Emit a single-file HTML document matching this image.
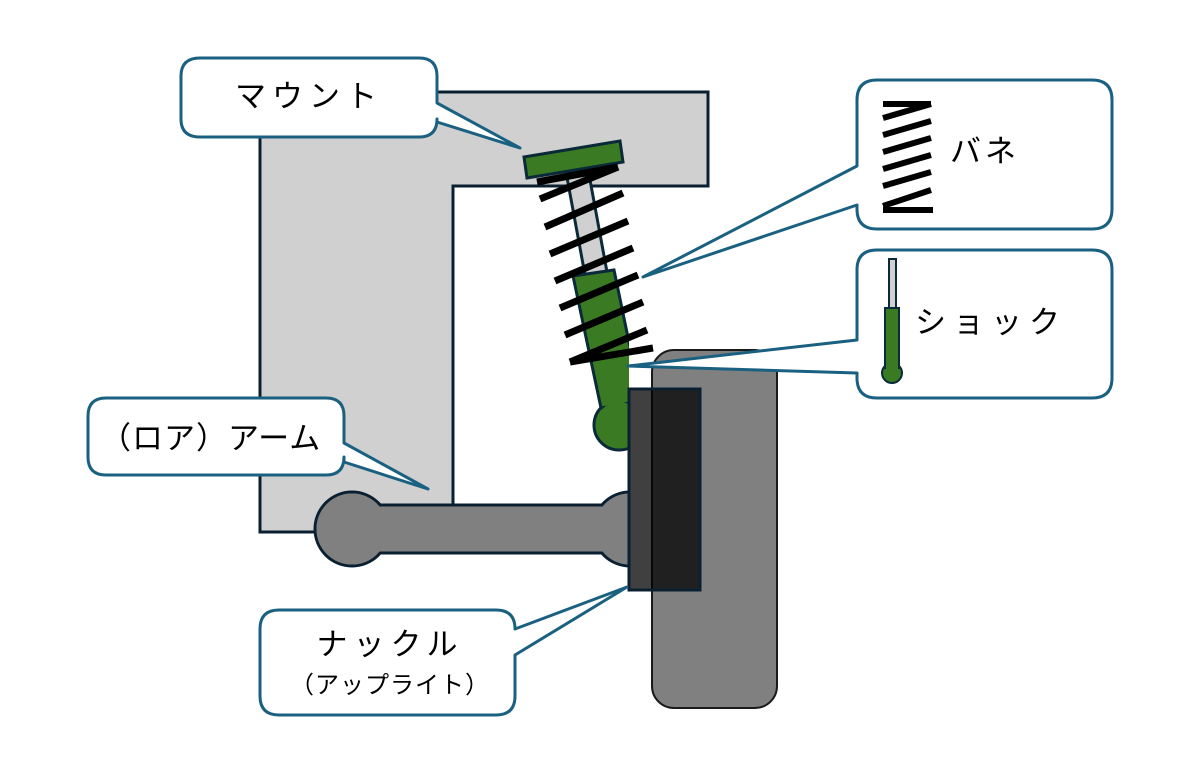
<!DOCTYPE html>
<html><head><meta charset="utf-8"><style>
html,body{margin:0;padding:0;background:#fff;}
svg{display:block;}
text{font-family:"Liberation Sans","Noto Sans CJK JP",sans-serif;fill:#000;}
</style></head><body>
<svg width="1190" height="760" viewBox="0 0 1190 760" xmlns="http://www.w3.org/2000/svg">
<defs><clipPath id="cl"><rect x="0" y="0" width="629" height="760"/></clipPath></defs>
<!-- frame -->
<polygon points="260,92 708,92 708,186 453,186 453,532 260,532" fill="#d0d0d0" stroke="#0a2030" stroke-width="3"/>
<!-- tire -->
<rect x="652" y="350" width="125" height="358" rx="22" fill="#808080" stroke="#1a1a1a" stroke-width="2"/>
<g clip-path="url(#cl)">
<!-- arm -->
<g fill="#808080" stroke="#0a2030" stroke-width="3">
<circle cx="352" cy="529" r="37"/>
<circle cx="630" cy="529" r="37"/>
<rect x="352" y="505" width="278" height="48"/>
</g>
<g fill="#808080">
<circle cx="352" cy="529" r="35.5"/>
<circle cx="630" cy="529" r="35.5"/>
<rect x="352" y="506.5" width="278" height="45"/>
</g>
<!-- shock rod -->
<polygon points="566,172 588,169 607,272 585,275" fill="#d0d0d0" stroke="#0a2a3a" stroke-width="3"/>
<!-- shock body -->
<g fill="#3a7a22" stroke="#0a2a3a" stroke-width="3">
<circle cx="619" cy="425" r="25"/>
<polygon points="573,276 614,270 641,400 601,408"/>
</g>
<polygon points="576,279 611,274 638,400 604,406" fill="#3a7a22"/>
<circle cx="619" cy="425" r="23" fill="#3a7a22"/>
</g>
<!-- mount -->
<polygon points="524,157 620,141 623,162 527,178" fill="#3a7a22" stroke="#0a2a3a" stroke-width="3"/>
<!-- spring -->
<g stroke="#000" stroke-width="7" fill="none">
<line x1="537" y1="182" x2="618" y2="167"/>
<line x1="540" y1="199" x2="618" y2="167"/>
<line x1="545" y1="227" x2="623" y2="193"/>
<line x1="550" y1="254" x2="628" y2="221"/>
<line x1="555" y1="281" x2="633" y2="248"/>
<line x1="560" y1="308" x2="638" y2="275"/>
<line x1="565" y1="335" x2="643" y2="302"/>
<line x1="570" y1="362" x2="647" y2="330"/>
<line x1="570" y1="362" x2="653" y2="348"/>
</g>
<!-- knuckle -->
<rect x="629" y="389" width="71" height="201" fill="#000" fill-opacity="0.75" stroke="#0a2030" stroke-width="3"/>
<!-- callouts -->
<g fill="#fff" stroke="#1a6080" stroke-width="3" stroke-linejoin="round">
<path d="M200,58 H419 Q437,58 437,76 V103 L520,148 L437,122 V119 Q437,137 419,137 H200 Q181,137 181,119 V76 Q181,58 200,58 Z"/>
<path d="M877,80 H1092 Q1112,80 1112,100 V209 Q1112,229 1092,229 H877 Q857,229 857,209 V205 L643,277 L857,166 V100 Q857,80 877,80 Z"/>
<path d="M877,250 H1092 Q1112,250 1112,270 V378 Q1112,398 1092,398 H877 Q857,398 857,378 V373 L628,366 L857,340 V270 Q857,250 877,250 Z"/>
<path d="M106,398 H326 Q344,398 344,416 V443 L428,489 L344,462 V457 Q344,475 326,475 H106 Q88,475 88,457 V416 Q88,398 106,398 Z"/>
<path d="M279,610 H496 Q515,610 515,629 V629 L627,587 L515,655 V696 Q515,715 496,715 H279 Q260,715 260,696 V629 Q260,610 279,610 Z"/>
</g>
<!-- spring icon -->
<g stroke="#000" stroke-width="6">
<line x1="883" y1="104" x2="931" y2="104"/>
<line x1="883" y1="118" x2="931" y2="104"/>
<line x1="883" y1="135" x2="931" y2="121"/>
<line x1="883" y1="152" x2="931" y2="138"/>
<line x1="883" y1="169" x2="931" y2="155"/>
<line x1="883" y1="186" x2="931" y2="172"/>
<line x1="883" y1="206" x2="931" y2="190"/>
<line x1="883" y1="210" x2="933" y2="210"/>
</g>
<!-- shock icon -->
<rect x="889" y="259" width="7" height="49" fill="#d0d0d0" stroke="#0a2a3a" stroke-width="2"/>
<circle cx="892" cy="373" r="10" fill="#3a7a22" stroke="#0a2a3a" stroke-width="2"/>
<rect x="885" y="308" width="14" height="60" fill="#3a7a22" stroke="#0a2a3a" stroke-width="2"/>
<rect x="886" y="360" width="12" height="10" fill="#3a7a22"/>
<!-- labels -->
<text x="309" y="107" font-size="31" text-anchor="middle" letter-spacing="6">マウント</text>
<text x="950" y="162" font-size="31" letter-spacing="4">バネ</text>
<text x="915" y="333" font-size="31" letter-spacing="7">ショック</text>
<text x="100" y="449" font-size="31" letter-spacing="1">（ロア）アーム</text>
<text x="390" y="655" font-size="31" text-anchor="middle" letter-spacing="6">ナックル</text>
<text x="390" y="693" font-size="24" text-anchor="middle" letter-spacing="1">（アップライト）</text>
</svg>
</body></html>
